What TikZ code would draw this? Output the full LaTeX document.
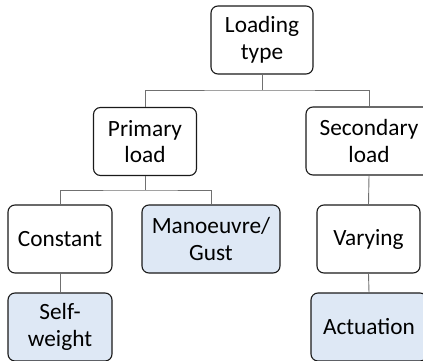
\documentclass[tikz,border=0pt]{standalone}
\usepackage{fontspec}
\setmainfont{Carlito}
\definecolor{boxfill}{HTML}{DEE8F5}
\definecolor{edge}{HTML}{1A1A1A}
\definecolor{wire}{HTML}{707070}
\begin{document}
\begin{tikzpicture}[x=1pt,y=-1pt,
  box/.style={draw=edge, line width=1.1pt, rounded corners=7pt, fill=white,
    minimum height=68pt, align=center, inner sep=0pt,
    font=\fontsize{23.3}{26.5}\selectfont},
  leaf/.style={box, fill=boxfill},
  wire/.style={draw=wire, line width=0.9pt}]
\useasboundingbox (0,0) rectangle (423,361);
% boxes of the loading hierarchy
\node[box, minimum width=102pt] (load) at (262,40) {Loading\\type};
\node[box, minimum width=103pt] (prim) at (145,141.5) {Primary\\load};
\node[box, minimum width=126pt] (sec) at (369,141) {Secondary\\load};
\node[box, minimum width=104pt] (const) at (60,239) {Constant};
\node[leaf, minimum width=138pt] (gust) at (211,239) {Manoeuvre/\\Gust};
\node[box, minimum width=103pt] (vary) at (368.5,239) {Varying};
\node[leaf, minimum width=104pt] (self) at (60,327) {Self-\\weight};
\node[leaf, minimum width=116pt] (act) at (369,327) {Actuation};
% elbow connectors
\coordinate (j1) at (262,90);
\coordinate (j2) at (145,190);
\draw[wire] (load.south) -- (j1);
\draw[wire] (prim.north) |- (j1) -| (sec.north);
\draw[wire] (prim.south) -- (j2);
\draw[wire] (const.north) |- (j2) -| (gust.north);
\draw[wire] (sec.south) -- (vary.north);
\draw[wire] (const.south) -- (self.north);
\draw[wire] (vary.south) -- (act.north);
\end{tikzpicture}
\end{document}
